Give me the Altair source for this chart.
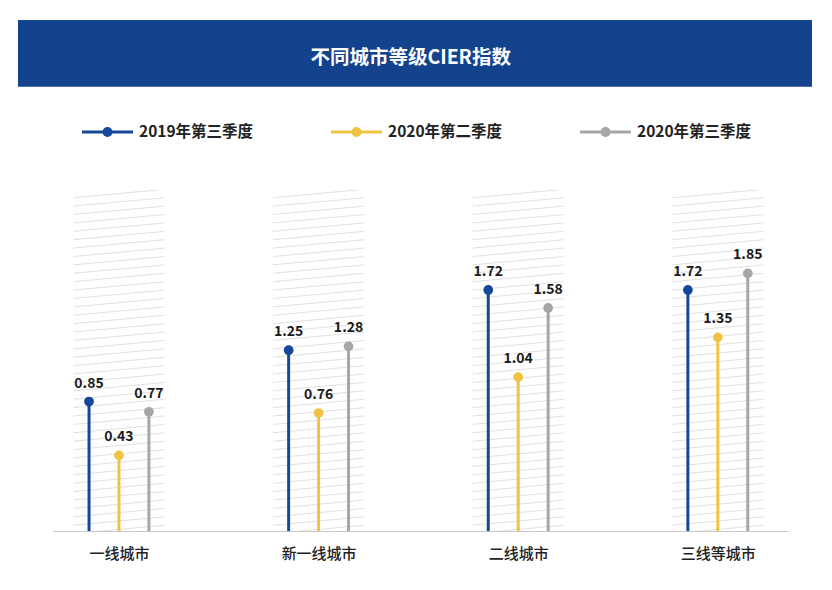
import altair as alt
import pandas as pd

# ---- data ----
title_text = "不同城市等级CIER指数"
categories = ["一线城市", "新一线城市", "二线城市", "三线等城市"]
series = ["2019年第三季度", "2020年第二季度", "2020年第三季度"]
v_2019q3 = [0.85, 1.25, 1.72, 1.72]
v_2020q2 = [0.43, 0.76, 1.04, 1.35]
v_2020q3 = [0.77, 1.28, 1.58, 1.85]
colors = ["#15479b", "#f0c443", "#a6a6a6"]

values_by_series = [v_2019q3, v_2020q2, v_2020q3]
rows = []
for s_i, (s_name, vals) in enumerate(zip(series, values_by_series)):
    for c_i, (cat, v) in enumerate(zip(categories, vals)):
        rows.append({"category": cat, "ci": c_i, "series": s_name, "si": s_i, "value": v})
df = pd.DataFrame(rows)

hatch_df = pd.DataFrame([{"ci": c_i, "k": k} for c_i in range(len(categories)) for k in range(44)])
legend_df = pd.DataFrame({"series": series, "j": list(range(len(series)))})
title_df = pd.DataFrame({"t": [title_text]})

FONT = "Noto Sans CJK SC"
YMIN, YMAX = -0.16, 2.5
W, H = 735, 341

label_expr = "[" + ",".join("'%s'" % c for c in categories) + "][datum.value]"
x_axis = alt.Axis(values=list(range(len(categories))), labelExpr=label_expr, title=None,
                  ticks=False, grid=False, domainColor="#c8c8c8", domainWidth=1,
                  labelFont=FONT, labelFontSize=15, labelFontWeight=500, labelColor="#222222",
                  labelPadding=16)
x_scale = alt.Scale(domain=[-0.332, 3.35], nice=False, zero=False)
y_scale = alt.Scale(domain=[YMIN, YMAX], nice=False, zero=False)
color_scale = alt.Scale(domain=series, range=colors)

# hatched background per category
hatch = alt.Chart(hatch_df).transform_calculate(
    hx1="datum.ci - 0.228", hx2="datum.ci + 0.228",
    hy1="-0.18 + datum.k * 0.0655", hy2="-0.18 + datum.k * 0.0655 + 0.065"
).mark_rule(color="#e0e0e0", strokeWidth=1, clip=True).encode(
    x=alt.X("hx1:Q", scale=x_scale, axis=x_axis),
    x2="hx2:Q",
    y=alt.Y("hy1:Q", scale=y_scale, axis=None),
    y2="hy2:Q",
)

base = alt.Chart(df).transform_calculate(px="datum.ci + (datum.si - 1) * 0.15")

stems = base.mark_rule(strokeWidth=3).encode(
    x=alt.X("px:Q", scale=x_scale, axis=x_axis),
    y=alt.Y("value:Q", scale=y_scale, axis=None),
    y2=alt.datum(YMIN),
    color=alt.Color("series:N", scale=color_scale, legend=None),
)
dots = base.mark_circle(size=95, opacity=1).encode(
    x=alt.X("px:Q", scale=x_scale, axis=x_axis),
    y=alt.Y("value:Q", scale=y_scale, axis=None),
    color=alt.Color("series:N", scale=color_scale, legend=None),
)
labels = base.mark_text(dy=-18, font=FONT, fontSize=14, fontWeight="bold", color="#1a1a1a").encode(
    x=alt.X("px:Q", scale=x_scale, axis=x_axis),
    y=alt.Y("value:Q", scale=y_scale, axis=None),
    text=alt.Text("value:Q", format=".2f"),
)

# legend (manual)
LEG_Y = -58
leg = alt.Chart(legend_df).transform_calculate(
    lx1="29.3 + datum.j * 249", lx2="29.3 + datum.j * 249 + 51",
    lxd="29.3 + datum.j * 249 + 25.5", lxt="29.3 + datum.j * 249 + 57"
)
leg_lines = leg.mark_rule(strokeWidth=3).encode(
    x=alt.X("lx1:Q", scale=None), x2="lx2:Q", y=alt.value(LEG_Y),
    color=alt.Color("series:N", scale=color_scale, legend=None),
)
leg_dots = leg.mark_circle(size=100, opacity=1).encode(
    x=alt.X("lxd:Q", scale=None), y=alt.value(LEG_Y),
    color=alt.Color("series:N", scale=color_scale, legend=None),
)
leg_text = leg.mark_text(align="left", baseline="middle", font=FONT, fontSize=15.5,
                         fontWeight="bold", color="#222222").encode(
    x=alt.X("lxt:Q", scale=None), y=alt.value(LEG_Y), text="series:N",
)

# title banner
banner = alt.Chart(title_df).mark_rect(color="#12438c").encode(
    x=alt.value(-34.7), x2=alt.value(759.3), y=alt.value(-170), y2=alt.value(-103.3),
)
banner_text = alt.Chart(title_df).mark_text(align="center", baseline="middle", font=FONT,
                                            fontSize=19.5, fontWeight="bold", color="#ffffff").encode(
    x=alt.value(358), y=alt.value(-132.5), text="t:N",
)

chart = alt.layer(hatch, stems, dots, labels, leg_lines, leg_dots, leg_text, banner, banner_text).properties(
    width=W, height=H,
    autosize=alt.AutoSizeParams(type="none"),
    padding={"left": 44.7, "top": 182, "right": 30, "bottom": 45},
).configure(background="#ffffff").configure_view(strokeWidth=0, stroke="transparent")

chart.save("out.html", embed_options={"renderer": "svg", "actions": False})
